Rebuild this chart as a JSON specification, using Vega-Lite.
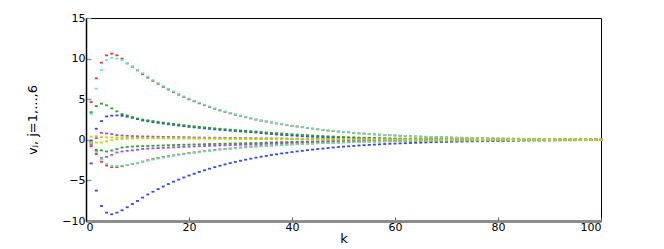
{"$schema":"https://vega.github.io/schema/vega-lite/v6.json","width":515,"height":203,"autosize":"none","padding":{"left":86,"top":18,"right":63,"bottom":28},"background":"white","config":{"view":{"stroke":"black","strokeWidth":1},"font":"DejaVu Sans"},
"data":{"values":[
{"s":"B2","k":1,"v":-2.9},{"s":"B2","k":2,"v":-6.26},{"s":"B2","k":3,"v":-8.15},{"s":"B2","k":4,"v":-8.97},{"s":"B2","k":5,"v":-9.17},{"s":"B2","k":6,"v":-8.97},{"s":"B2","k":7,"v":-8.68},{"s":"B2","k":8,"v":-8.31},{"s":"B2","k":9,"v":-7.9},{"s":"B2","k":10,"v":-7.53},
{"s":"B2","k":11,"v":-7.12},{"s":"B2","k":12,"v":-6.74},{"s":"B2","k":13,"v":-6.4},{"s":"B2","k":14,"v":-6.07},{"s":"B2","k":15,"v":-5.75},{"s":"B2","k":16,"v":-5.45},{"s":"B2","k":17,"v":-5.16},{"s":"B2","k":18,"v":-4.9},{"s":"B2","k":19,"v":-4.64},{"s":"B2","k":20,"v":-4.4},
{"s":"B2","k":21,"v":-4.18},{"s":"B2","k":22,"v":-3.96},{"s":"B2","k":23,"v":-3.75},{"s":"B2","k":24,"v":-3.56},{"s":"B2","k":25,"v":-3.37},{"s":"B2","k":26,"v":-3.19},{"s":"B2","k":27,"v":-3.03},{"s":"B2","k":28,"v":-2.87},{"s":"B2","k":29,"v":-2.73},{"s":"B2","k":30,"v":-2.58},
{"s":"B2","k":31,"v":-2.45},{"s":"B2","k":32,"v":-2.32},{"s":"B2","k":33,"v":-2.2},{"s":"B2","k":34,"v":-2.08},{"s":"B2","k":35,"v":-1.98},{"s":"B2","k":36,"v":-1.87},{"s":"B2","k":37,"v":-1.78},{"s":"B2","k":38,"v":-1.68},{"s":"B2","k":39,"v":-1.6},{"s":"B2","k":40,"v":-1.51},
{"s":"B2","k":41,"v":-1.43},{"s":"B2","k":42,"v":-1.36},{"s":"B2","k":43,"v":-1.28},{"s":"B2","k":44,"v":-1.21},{"s":"B2","k":45,"v":-1.14},{"s":"B2","k":46,"v":-1.08},{"s":"B2","k":47,"v":-1.01},{"s":"B2","k":48,"v":-0.95},{"s":"B2","k":49,"v":-0.89},{"s":"B2","k":50,"v":-0.84},
{"s":"B2","k":51,"v":-0.8},{"s":"B2","k":52,"v":-0.75},{"s":"B2","k":53,"v":-0.7},{"s":"B2","k":54,"v":-0.67},{"s":"B2","k":55,"v":-0.63},{"s":"B2","k":56,"v":-0.59},{"s":"B2","k":57,"v":-0.56},{"s":"B2","k":58,"v":-0.52},{"s":"B2","k":59,"v":-0.49},{"s":"B2","k":60,"v":-0.47},
{"s":"B2","k":61,"v":-0.44},{"s":"B2","k":62,"v":-0.42},{"s":"B2","k":63,"v":-0.39},{"s":"B2","k":64,"v":-0.36},{"s":"B2","k":65,"v":-0.35},{"s":"B2","k":66,"v":-0.33},{"s":"B2","k":67,"v":-0.3},{"s":"B2","k":68,"v":-0.29},{"s":"B2","k":69,"v":-0.27},{"s":"B2","k":70,"v":-0.26},
{"s":"B2","k":71,"v":-0.24},{"s":"B2","k":72,"v":-0.23},{"s":"B2","k":73,"v":-0.22},{"s":"B2","k":74,"v":-0.2},{"s":"B2","k":75,"v":-0.19},{"s":"B2","k":76,"v":-0.18},{"s":"B2","k":77,"v":-0.17},{"s":"B2","k":78,"v":-0.16},{"s":"B2","k":79,"v":-0.15},{"s":"B2","k":80,"v":-0.14},
{"s":"B2","k":81,"v":-0.13},{"s":"B2","k":82,"v":-0.12},{"s":"B2","k":83,"v":-0.12},{"s":"B2","k":84,"v":-0.11},{"s":"B2","k":85,"v":-0.1},{"s":"B2","k":86,"v":-0.1},{"s":"B2","k":87,"v":-0.09},{"s":"B2","k":88,"v":-0.09},{"s":"B2","k":89,"v":-0.08},{"s":"B2","k":90,"v":-0.08},
{"s":"B2","k":91,"v":-0.07},{"s":"B2","k":92,"v":-0.07},{"s":"B2","k":93,"v":-0.06},{"s":"B2","k":94,"v":-0.06},{"s":"B2","k":95,"v":-0.05},{"s":"B2","k":96,"v":-0.05},{"s":"B2","k":97,"v":-0.05},{"s":"B2","k":98,"v":-0.04},{"s":"B2","k":99,"v":-0.04},{"s":"B2","k":100,"v":-0.04},
{"s":"B1","k":1,"v":-0.1},{"s":"B1","k":2,"v":1.36},{"s":"B1","k":3,"v":2.3},{"s":"B1","k":4,"v":2.88},{"s":"B1","k":5,"v":2.97},{"s":"B1","k":6,"v":3.0},{"s":"B1","k":7,"v":2.96},{"s":"B1","k":8,"v":2.85},{"s":"B1","k":9,"v":2.7},{"s":"B1","k":10,"v":2.55},
{"s":"B1","k":11,"v":2.38},{"s":"B1","k":12,"v":2.28},{"s":"B1","k":13,"v":2.18},{"s":"B1","k":14,"v":2.09},{"s":"B1","k":15,"v":2.0},{"s":"B1","k":16,"v":1.91},{"s":"B1","k":17,"v":1.83},{"s":"B1","k":18,"v":1.75},{"s":"B1","k":19,"v":1.68},{"s":"B1","k":20,"v":1.6},
{"s":"B1","k":21,"v":1.53},{"s":"B1","k":22,"v":1.47},{"s":"B1","k":23,"v":1.41},{"s":"B1","k":24,"v":1.35},{"s":"B1","k":25,"v":1.29},{"s":"B1","k":26,"v":1.23},{"s":"B1","k":27,"v":1.18},{"s":"B1","k":28,"v":1.13},{"s":"B1","k":29,"v":1.08},{"s":"B1","k":30,"v":1.03},
{"s":"B1","k":31,"v":0.99},{"s":"B1","k":32,"v":0.94},{"s":"B1","k":33,"v":0.9},{"s":"B1","k":34,"v":0.83},{"s":"B1","k":35,"v":0.77},{"s":"B1","k":36,"v":0.72},{"s":"B1","k":37,"v":0.66},{"s":"B1","k":38,"v":0.61},{"s":"B1","k":39,"v":0.57},{"s":"B1","k":40,"v":0.53},
{"s":"B1","k":41,"v":0.49},{"s":"B1","k":42,"v":0.45},{"s":"B1","k":43,"v":0.42},{"s":"B1","k":44,"v":0.38},{"s":"B1","k":45,"v":0.35},{"s":"B1","k":46,"v":0.33},{"s":"B1","k":47,"v":0.3},{"s":"B1","k":48,"v":0.28},{"s":"B1","k":49,"v":0.26},{"s":"B1","k":50,"v":0.24},
{"s":"B1","k":51,"v":0.22},{"s":"B1","k":52,"v":0.2},{"s":"B1","k":53,"v":0.19},{"s":"B1","k":54,"v":0.17},{"s":"B1","k":55,"v":0.16},{"s":"B1","k":56,"v":0.15},{"s":"B1","k":57,"v":0.14},{"s":"B1","k":58,"v":0.13},{"s":"B1","k":59,"v":0.12},{"s":"B1","k":60,"v":0.11},
{"s":"B1","k":61,"v":0.1},{"s":"B1","k":62,"v":0.09},{"s":"B1","k":63,"v":0.085},{"s":"B1","k":64,"v":0.08},{"s":"B1","k":65,"v":0.07},{"s":"B1","k":66,"v":0.065},{"s":"B1","k":67,"v":0.06},{"s":"B1","k":68,"v":0.055},{"s":"B1","k":69,"v":0.05},{"s":"B1","k":70,"v":0.047},
{"s":"B1","k":71,"v":0.044},{"s":"B1","k":72,"v":0.04},{"s":"B1","k":73,"v":0.037},{"s":"B1","k":74,"v":0.034},{"s":"B1","k":75,"v":0.032},{"s":"B1","k":76,"v":0.03},{"s":"B1","k":77,"v":0.027},{"s":"B1","k":78,"v":0.025},{"s":"B1","k":79,"v":0.023},{"s":"B1","k":80,"v":0.021},
{"s":"B1","k":81,"v":0.02},{"s":"B1","k":82,"v":0.018},{"s":"B1","k":83,"v":0.017},{"s":"B1","k":84,"v":0.016},{"s":"B1","k":85,"v":0.015},{"s":"B1","k":86,"v":0.014},{"s":"B1","k":87,"v":0.013},{"s":"B1","k":88,"v":0.012},{"s":"B1","k":89,"v":0.011},{"s":"B1","k":90,"v":0.01},
{"s":"B1","k":91,"v":0.009},{"s":"B1","k":92,"v":0.009},{"s":"B1","k":93,"v":0.008},{"s":"B1","k":94,"v":0.008},{"s":"B1","k":95,"v":0.007},{"s":"B1","k":96,"v":0.007},{"s":"B1","k":97,"v":0.006},{"s":"B1","k":98,"v":0.006},{"s":"B1","k":99,"v":0.005},{"s":"B1","k":100,"v":0.005},
{"s":"G1","k":1,"v":3.4},{"s":"G1","k":2,"v":4.15},{"s":"G1","k":3,"v":4.45},{"s":"G1","k":4,"v":4.25},{"s":"G1","k":5,"v":3.87},{"s":"G1","k":6,"v":3.5},{"s":"G1","k":7,"v":3.17},{"s":"G1","k":8,"v":3.0},{"s":"G1","k":9,"v":2.8},{"s":"G1","k":10,"v":2.62},
{"s":"G1","k":11,"v":2.5},{"s":"G1","k":12,"v":2.4},{"s":"G1","k":13,"v":2.3},{"s":"G1","k":14,"v":2.21},{"s":"G1","k":15,"v":2.12},{"s":"G1","k":16,"v":2.04},{"s":"G1","k":17,"v":1.96},{"s":"G1","k":18,"v":1.88},{"s":"G1","k":19,"v":1.8},{"s":"G1","k":20,"v":1.73},
{"s":"G1","k":21,"v":1.66},{"s":"G1","k":22,"v":1.6},{"s":"G1","k":23,"v":1.53},{"s":"G1","k":24,"v":1.47},{"s":"G1","k":25,"v":1.41},{"s":"G1","k":26,"v":1.36},{"s":"G1","k":27,"v":1.3},{"s":"G1","k":28,"v":1.25},{"s":"G1","k":29,"v":1.2},{"s":"G1","k":30,"v":1.15},
{"s":"G1","k":31,"v":1.11},{"s":"G1","k":32,"v":1.06},{"s":"G1","k":33,"v":1.02},{"s":"G1","k":34,"v":0.96},{"s":"G1","k":35,"v":0.91},{"s":"G1","k":36,"v":0.86},{"s":"G1","k":37,"v":0.82},{"s":"G1","k":38,"v":0.77},{"s":"G1","k":39,"v":0.73},{"s":"G1","k":40,"v":0.69},
{"s":"G1","k":41,"v":0.65},{"s":"G1","k":42,"v":0.62},{"s":"G1","k":43,"v":0.575},{"s":"G1","k":44,"v":0.53},{"s":"G1","k":45,"v":0.5},{"s":"G1","k":46,"v":0.46},{"s":"G1","k":47,"v":0.43},{"s":"G1","k":48,"v":0.4},{"s":"G1","k":49,"v":0.37},{"s":"G1","k":50,"v":0.34},
{"s":"G1","k":51,"v":0.32},{"s":"G1","k":52,"v":0.3},{"s":"G1","k":53,"v":0.27},{"s":"G1","k":54,"v":0.25},{"s":"G1","k":55,"v":0.24},{"s":"G1","k":56,"v":0.22},{"s":"G1","k":57,"v":0.2},{"s":"G1","k":58,"v":0.19},{"s":"G1","k":59,"v":0.17},{"s":"G1","k":60,"v":0.16},
{"s":"G1","k":61,"v":0.15},{"s":"G1","k":62,"v":0.14},{"s":"G1","k":63,"v":0.13},{"s":"G1","k":64,"v":0.12},{"s":"G1","k":65,"v":0.11},{"s":"G1","k":66,"v":0.1},{"s":"G1","k":67,"v":0.095},{"s":"G1","k":68,"v":0.09},{"s":"G1","k":69,"v":0.08},{"s":"G1","k":70,"v":0.075},
{"s":"G1","k":71,"v":0.07},{"s":"G1","k":72,"v":0.065},{"s":"G1","k":73,"v":0.06},{"s":"G1","k":74,"v":0.055},{"s":"G1","k":75,"v":0.05},{"s":"G1","k":76,"v":0.047},{"s":"G1","k":77,"v":0.044},{"s":"G1","k":78,"v":0.04},{"s":"G1","k":79,"v":0.037},{"s":"G1","k":80,"v":0.035},
{"s":"G1","k":81,"v":0.032},{"s":"G1","k":82,"v":0.03},{"s":"G1","k":83,"v":0.028},{"s":"G1","k":84,"v":0.026},{"s":"G1","k":85,"v":0.024},{"s":"G1","k":86,"v":0.022},{"s":"G1","k":87,"v":0.02},{"s":"G1","k":88,"v":0.019},{"s":"G1","k":89,"v":0.018},{"s":"G1","k":90,"v":0.016},
{"s":"G1","k":91,"v":0.015},{"s":"G1","k":92,"v":0.014},{"s":"G1","k":93,"v":0.013},{"s":"G1","k":94,"v":0.012},{"s":"G1","k":95,"v":0.011},{"s":"G1","k":96,"v":0.01},{"s":"G1","k":97,"v":0.01},{"s":"G1","k":98,"v":0.009},{"s":"G1","k":99,"v":0.008},{"s":"G1","k":100,"v":0.008},
{"s":"G2","k":1,"v":-0.45},{"s":"G2","k":2,"v":-1.23},{"s":"G2","k":3,"v":-1.3},{"s":"G2","k":4,"v":-1.44},{"s":"G2","k":5,"v":-1.32},{"s":"G2","k":6,"v":-1.15},{"s":"G2","k":7,"v":-0.95},{"s":"G2","k":8,"v":-0.88},{"s":"G2","k":9,"v":-0.84},{"s":"G2","k":10,"v":-0.8},
{"s":"G2","k":11,"v":-0.78},{"s":"G2","k":12,"v":-0.76},{"s":"G2","k":13,"v":-0.73},{"s":"G2","k":14,"v":-0.71},{"s":"G2","k":15,"v":-0.69},{"s":"G2","k":16,"v":-0.67},{"s":"G2","k":17,"v":-0.65},{"s":"G2","k":18,"v":-0.63},{"s":"G2","k":19,"v":-0.61},{"s":"G2","k":20,"v":-0.59},
{"s":"G2","k":21,"v":-0.57},{"s":"G2","k":22,"v":-0.56},{"s":"G2","k":23,"v":-0.54},{"s":"G2","k":24,"v":-0.52},{"s":"G2","k":25,"v":-0.51},{"s":"G2","k":26,"v":-0.49},{"s":"G2","k":27,"v":-0.48},{"s":"G2","k":28,"v":-0.46},{"s":"G2","k":29,"v":-0.45},{"s":"G2","k":30,"v":-0.44},
{"s":"G2","k":31,"v":-0.42},{"s":"G2","k":32,"v":-0.41},{"s":"G2","k":33,"v":-0.4},{"s":"G2","k":34,"v":-0.38},{"s":"G2","k":35,"v":-0.35},{"s":"G2","k":36,"v":-0.33},{"s":"G2","k":37,"v":-0.31},{"s":"G2","k":38,"v":-0.29},{"s":"G2","k":39,"v":-0.28},{"s":"G2","k":40,"v":-0.26},
{"s":"G2","k":41,"v":-0.24},{"s":"G2","k":42,"v":-0.23},{"s":"G2","k":43,"v":-0.22},{"s":"G2","k":44,"v":-0.2},{"s":"G2","k":45,"v":-0.19},{"s":"G2","k":46,"v":-0.18},{"s":"G2","k":47,"v":-0.17},{"s":"G2","k":48,"v":-0.16},{"s":"G2","k":49,"v":-0.15},{"s":"G2","k":50,"v":-0.14},
{"s":"G2","k":51,"v":-0.13},{"s":"G2","k":52,"v":-0.12},{"s":"G2","k":53,"v":-0.11},{"s":"G2","k":54,"v":-0.11},{"s":"G2","k":55,"v":-0.1},{"s":"G2","k":56,"v":-0.09},{"s":"G2","k":57,"v":-0.09},{"s":"G2","k":58,"v":-0.08},{"s":"G2","k":59,"v":-0.08},{"s":"G2","k":60,"v":-0.07},
{"s":"G2","k":61,"v":-0.07},{"s":"G2","k":62,"v":-0.06},{"s":"G2","k":63,"v":-0.06},{"s":"G2","k":64,"v":-0.06},{"s":"G2","k":65,"v":-0.05},{"s":"G2","k":66,"v":-0.05},{"s":"G2","k":67,"v":-0.05},{"s":"G2","k":68,"v":-0.04},{"s":"G2","k":69,"v":-0.04},{"s":"G2","k":70,"v":-0.04},
{"s":"G2","k":71,"v":-0.04},{"s":"G2","k":72,"v":-0.03},{"s":"G2","k":73,"v":-0.03},{"s":"G2","k":74,"v":-0.03},{"s":"G2","k":75,"v":-0.03},{"s":"G2","k":76,"v":-0.03},{"s":"G2","k":77,"v":-0.03},{"s":"G2","k":78,"v":-0.02},{"s":"G2","k":79,"v":-0.02},{"s":"G2","k":80,"v":-0.02},
{"s":"G2","k":81,"v":-0.02},{"s":"G2","k":82,"v":-0.02},{"s":"G2","k":83,"v":-0.02},{"s":"G2","k":84,"v":-0.02},{"s":"G2","k":85,"v":-0.02},{"s":"G2","k":86,"v":-0.02},{"s":"G2","k":87,"v":-0.02},{"s":"G2","k":88,"v":-0.02},{"s":"G2","k":89,"v":-0.02},{"s":"G2","k":90,"v":-0.02},
{"s":"G2","k":91,"v":-0.01},{"s":"G2","k":92,"v":-0.01},{"s":"G2","k":93,"v":-0.01},{"s":"G2","k":94,"v":-0.01},{"s":"G2","k":95,"v":-0.01},{"s":"G2","k":96,"v":-0.01},{"s":"G2","k":97,"v":-0.01},{"s":"G2","k":98,"v":-0.01},{"s":"G2","k":99,"v":-0.01},{"s":"G2","k":100,"v":-0.01},
{"s":"P1","k":1,"v":-0.6},{"s":"P1","k":2,"v":0.2},{"s":"P1","k":3,"v":0.86},{"s":"P1","k":4,"v":0.78},{"s":"P1","k":5,"v":0.7},{"s":"P1","k":6,"v":0.58},{"s":"P1","k":7,"v":0.53},{"s":"P1","k":8,"v":0.49},{"s":"P1","k":9,"v":0.46},{"s":"P1","k":10,"v":0.44},
{"s":"P1","k":11,"v":0.42},{"s":"P1","k":12,"v":0.41},{"s":"P1","k":13,"v":0.39},{"s":"P1","k":14,"v":0.38},{"s":"P1","k":15,"v":0.36},{"s":"P1","k":16,"v":0.35},{"s":"P1","k":17,"v":0.34},{"s":"P1","k":18,"v":0.33},{"s":"P1","k":19,"v":0.32},{"s":"P1","k":20,"v":0.31},
{"s":"P1","k":21,"v":0.29},{"s":"P1","k":22,"v":0.28},{"s":"P1","k":23,"v":0.27},{"s":"P1","k":24,"v":0.26},{"s":"P1","k":25,"v":0.26},{"s":"P1","k":26,"v":0.25},{"s":"P1","k":27,"v":0.24},{"s":"P1","k":28,"v":0.23},{"s":"P1","k":29,"v":0.22},{"s":"P1","k":30,"v":0.21},
{"s":"P1","k":31,"v":0.21},{"s":"P1","k":32,"v":0.2},{"s":"P1","k":33,"v":0.19},{"s":"P1","k":34,"v":0.18},{"s":"P1","k":35,"v":0.18},{"s":"P1","k":36,"v":0.17},{"s":"P1","k":37,"v":0.16},{"s":"P1","k":38,"v":0.16},{"s":"P1","k":39,"v":0.15},{"s":"P1","k":40,"v":0.14},
{"s":"P1","k":41,"v":0.14},{"s":"P1","k":42,"v":0.13},{"s":"P1","k":43,"v":0.125},{"s":"P1","k":44,"v":0.12},{"s":"P1","k":45,"v":0.11},{"s":"P1","k":46,"v":0.105},{"s":"P1","k":47,"v":0.1},{"s":"P1","k":48,"v":0.095},{"s":"P1","k":49,"v":0.09},{"s":"P1","k":50,"v":0.085},
{"s":"P1","k":51,"v":0.08},{"s":"P1","k":52,"v":0.077},{"s":"P1","k":53,"v":0.073},{"s":"P1","k":54,"v":0.07},{"s":"P1","k":55,"v":0.066},{"s":"P1","k":56,"v":0.063},{"s":"P1","k":57,"v":0.06},{"s":"P1","k":58,"v":0.057},{"s":"P1","k":59,"v":0.054},{"s":"P1","k":60,"v":0.051},
{"s":"P1","k":61,"v":0.048},{"s":"P1","k":62,"v":0.046},{"s":"P1","k":63,"v":0.044},{"s":"P1","k":64,"v":0.041},{"s":"P1","k":65,"v":0.039},{"s":"P1","k":66,"v":0.037},{"s":"P1","k":67,"v":0.035},{"s":"P1","k":68,"v":0.034},{"s":"P1","k":69,"v":0.032},{"s":"P1","k":70,"v":0.03},
{"s":"P1","k":71,"v":0.029},{"s":"P1","k":72,"v":0.027},{"s":"P1","k":73,"v":0.026},{"s":"P1","k":74,"v":0.025},{"s":"P1","k":75,"v":0.023},{"s":"P1","k":76,"v":0.022},{"s":"P1","k":77,"v":0.021},{"s":"P1","k":78,"v":0.02},{"s":"P1","k":79,"v":0.019},{"s":"P1","k":80,"v":0.018},
{"s":"P1","k":81,"v":0.017},{"s":"P1","k":82,"v":0.016},{"s":"P1","k":83,"v":0.015},{"s":"P1","k":84,"v":0.015},{"s":"P1","k":85,"v":0.014},{"s":"P1","k":86,"v":0.013},{"s":"P1","k":87,"v":0.013},{"s":"P1","k":88,"v":0.012},{"s":"P1","k":89,"v":0.011},{"s":"P1","k":90,"v":0.011},
{"s":"P1","k":91,"v":0.01},{"s":"P1","k":92,"v":0.01},{"s":"P1","k":93,"v":0.009},{"s":"P1","k":94,"v":0.009},{"s":"P1","k":95,"v":0.008},{"s":"P1","k":96,"v":0.008},{"s":"P1","k":97,"v":0.008},{"s":"P1","k":98,"v":0.007},{"s":"P1","k":99,"v":0.007},{"s":"P1","k":100,"v":0.007},
{"s":"P2","k":1,"v":-0.3},{"s":"P2","k":2,"v":-1.4},{"s":"P2","k":3,"v":-2.26},{"s":"P2","k":4,"v":-2.1},{"s":"P2","k":5,"v":-1.85},{"s":"P2","k":6,"v":-1.56},{"s":"P2","k":7,"v":-1.44},{"s":"P2","k":8,"v":-1.36},{"s":"P2","k":9,"v":-1.3},{"s":"P2","k":10,"v":-1.22},
{"s":"P2","k":11,"v":-1.12},{"s":"P2","k":12,"v":-1.09},{"s":"P2","k":13,"v":-1.05},{"s":"P2","k":14,"v":-1.02},{"s":"P2","k":15,"v":-0.99},{"s":"P2","k":16,"v":-0.96},{"s":"P2","k":17,"v":-0.93},{"s":"P2","k":18,"v":-0.9},{"s":"P2","k":19,"v":-0.87},{"s":"P2","k":20,"v":-0.84},
{"s":"P2","k":21,"v":-0.82},{"s":"P2","k":22,"v":-0.79},{"s":"P2","k":23,"v":-0.77},{"s":"P2","k":24,"v":-0.74},{"s":"P2","k":25,"v":-0.72},{"s":"P2","k":26,"v":-0.7},{"s":"P2","k":27,"v":-0.68},{"s":"P2","k":28,"v":-0.65},{"s":"P2","k":29,"v":-0.63},{"s":"P2","k":30,"v":-0.61},
{"s":"P2","k":31,"v":-0.6},{"s":"P2","k":32,"v":-0.58},{"s":"P2","k":33,"v":-0.56},{"s":"P2","k":34,"v":-0.53},{"s":"P2","k":35,"v":-0.49},{"s":"P2","k":36,"v":-0.46},{"s":"P2","k":37,"v":-0.44},{"s":"P2","k":38,"v":-0.41},{"s":"P2","k":39,"v":-0.39},{"s":"P2","k":40,"v":-0.36},
{"s":"P2","k":41,"v":-0.34},{"s":"P2","k":42,"v":-0.32},{"s":"P2","k":43,"v":-0.3},{"s":"P2","k":44,"v":-0.28},{"s":"P2","k":45,"v":-0.27},{"s":"P2","k":46,"v":-0.25},{"s":"P2","k":47,"v":-0.24},{"s":"P2","k":48,"v":-0.22},{"s":"P2","k":49,"v":-0.21},{"s":"P2","k":50,"v":-0.2},
{"s":"P2","k":51,"v":-0.18},{"s":"P2","k":52,"v":-0.17},{"s":"P2","k":53,"v":-0.16},{"s":"P2","k":54,"v":-0.15},{"s":"P2","k":55,"v":-0.14},{"s":"P2","k":56,"v":-0.14},{"s":"P2","k":57,"v":-0.13},{"s":"P2","k":58,"v":-0.12},{"s":"P2","k":59,"v":-0.11},{"s":"P2","k":60,"v":-0.11},
{"s":"P2","k":61,"v":-0.1},{"s":"P2","k":62,"v":-0.1},{"s":"P2","k":63,"v":-0.09},{"s":"P2","k":64,"v":-0.08},{"s":"P2","k":65,"v":-0.08},{"s":"P2","k":66,"v":-0.08},{"s":"P2","k":67,"v":-0.07},{"s":"P2","k":68,"v":-0.07},{"s":"P2","k":69,"v":-0.06},{"s":"P2","k":70,"v":-0.06},
{"s":"P2","k":71,"v":-0.06},{"s":"P2","k":72,"v":-0.05},{"s":"P2","k":73,"v":-0.05},{"s":"P2","k":74,"v":-0.05},{"s":"P2","k":75,"v":-0.04},{"s":"P2","k":76,"v":-0.04},{"s":"P2","k":77,"v":-0.04},{"s":"P2","k":78,"v":-0.04},{"s":"P2","k":79,"v":-0.04},{"s":"P2","k":80,"v":-0.03},
{"s":"P2","k":81,"v":-0.03},{"s":"P2","k":82,"v":-0.03},{"s":"P2","k":83,"v":-0.03},{"s":"P2","k":84,"v":-0.03},{"s":"P2","k":85,"v":-0.03},{"s":"P2","k":86,"v":-0.03},{"s":"P2","k":87,"v":-0.03},{"s":"P2","k":88,"v":-0.03},{"s":"P2","k":89,"v":-0.02},{"s":"P2","k":90,"v":-0.02},
{"s":"P2","k":91,"v":-0.02},{"s":"P2","k":92,"v":-0.02},{"s":"P2","k":93,"v":-0.02},{"s":"P2","k":94,"v":-0.02},{"s":"P2","k":95,"v":-0.02},{"s":"P2","k":96,"v":-0.02},{"s":"P2","k":97,"v":-0.02},{"s":"P2","k":98,"v":-0.02},{"s":"P2","k":99,"v":-0.02},{"s":"P2","k":100,"v":-0.02},
{"s":"R1","k":1,"v":4.65},{"s":"R1","k":2,"v":7.57},{"s":"R1","k":3,"v":9.5},{"s":"R1","k":4,"v":10.4},{"s":"R1","k":5,"v":10.6},{"s":"R1","k":6,"v":10.4},{"s":"R1","k":7,"v":10.0},{"s":"R1","k":8,"v":9.4},{"s":"R1","k":9,"v":9.0},{"s":"R1","k":10,"v":8.55},
{"s":"R1","k":11,"v":8.08},{"s":"R1","k":12,"v":7.65},{"s":"R1","k":13,"v":7.26},{"s":"R1","k":14,"v":6.89},{"s":"R1","k":15,"v":6.52},{"s":"R1","k":16,"v":6.19},{"s":"R1","k":17,"v":5.86},{"s":"R1","k":18,"v":5.56},{"s":"R1","k":19,"v":5.27},{"s":"R1","k":20,"v":4.99},
{"s":"R1","k":21,"v":4.74},{"s":"R1","k":22,"v":4.49},{"s":"R1","k":23,"v":4.26},{"s":"R1","k":24,"v":4.04},{"s":"R1","k":25,"v":3.82},{"s":"R1","k":26,"v":3.62},{"s":"R1","k":27,"v":3.44},{"s":"R1","k":28,"v":3.26},{"s":"R1","k":29,"v":3.09},{"s":"R1","k":30,"v":2.93},
{"s":"R1","k":31,"v":2.78},{"s":"R1","k":32,"v":2.63},{"s":"R1","k":33,"v":2.49},{"s":"R1","k":34,"v":2.36},{"s":"R1","k":35,"v":2.25},{"s":"R1","k":36,"v":2.13},{"s":"R1","k":37,"v":2.02},{"s":"R1","k":38,"v":1.91},{"s":"R1","k":39,"v":1.81},{"s":"R1","k":40,"v":1.71},
{"s":"R1","k":41,"v":1.63},{"s":"R1","k":42,"v":1.55},{"s":"R1","k":43,"v":1.46},{"s":"R1","k":44,"v":1.37},{"s":"R1","k":45,"v":1.29},{"s":"R1","k":46,"v":1.22},{"s":"R1","k":47,"v":1.14},{"s":"R1","k":48,"v":1.08},{"s":"R1","k":49,"v":1.01},{"s":"R1","k":50,"v":0.96},
{"s":"R1","k":51,"v":0.91},{"s":"R1","k":52,"v":0.85},{"s":"R1","k":53,"v":0.8},{"s":"R1","k":54,"v":0.76},{"s":"R1","k":55,"v":0.71},{"s":"R1","k":56,"v":0.67},{"s":"R1","k":57,"v":0.63},{"s":"R1","k":58,"v":0.59},{"s":"R1","k":59,"v":0.56},{"s":"R1","k":60,"v":0.53},
{"s":"R1","k":61,"v":0.5},{"s":"R1","k":62,"v":0.47},{"s":"R1","k":63,"v":0.44},{"s":"R1","k":64,"v":0.41},{"s":"R1","k":65,"v":0.39},{"s":"R1","k":66,"v":0.37},{"s":"R1","k":67,"v":0.34},{"s":"R1","k":68,"v":0.33},{"s":"R1","k":69,"v":0.31},{"s":"R1","k":70,"v":0.3},
{"s":"R1","k":71,"v":0.28},{"s":"R1","k":72,"v":0.26},{"s":"R1","k":73,"v":0.25},{"s":"R1","k":74,"v":0.23},{"s":"R1","k":75,"v":0.22},{"s":"R1","k":76,"v":0.21},{"s":"R1","k":77,"v":0.2},{"s":"R1","k":78,"v":0.18},{"s":"R1","k":79,"v":0.17},{"s":"R1","k":80,"v":0.16},
{"s":"R1","k":81,"v":0.15},{"s":"R1","k":82,"v":0.14},{"s":"R1","k":83,"v":0.14},{"s":"R1","k":84,"v":0.13},{"s":"R1","k":85,"v":0.12},{"s":"R1","k":86,"v":0.11},{"s":"R1","k":87,"v":0.11},{"s":"R1","k":88,"v":0.1},{"s":"R1","k":89,"v":0.09},{"s":"R1","k":90,"v":0.09},
{"s":"R1","k":91,"v":0.08},{"s":"R1","k":92,"v":0.08},{"s":"R1","k":93,"v":0.07},{"s":"R1","k":94,"v":0.07},{"s":"R1","k":95,"v":0.06},{"s":"R1","k":96,"v":0.06},{"s":"R1","k":97,"v":0.06},{"s":"R1","k":98,"v":0.05},{"s":"R1","k":99,"v":0.05},{"s":"R1","k":100,"v":0.05},
{"s":"R2","k":1,"v":-0.8},{"s":"R2","k":2,"v":-1.75},{"s":"R2","k":3,"v":-2.7},{"s":"R2","k":4,"v":-3.17},{"s":"R2","k":5,"v":-3.37},{"s":"R2","k":6,"v":-3.37},{"s":"R2","k":7,"v":-3.25},{"s":"R2","k":8,"v":-3.12},{"s":"R2","k":9,"v":-2.98},{"s":"R2","k":10,"v":-2.88},
{"s":"R2","k":11,"v":-2.68},{"s":"R2","k":12,"v":-2.52},{"s":"R2","k":13,"v":-2.38},{"s":"R2","k":14,"v":-2.25},{"s":"R2","k":15,"v":-2.13},{"s":"R2","k":16,"v":-2.02},{"s":"R2","k":17,"v":-1.92},{"s":"R2","k":18,"v":-1.81},{"s":"R2","k":19,"v":-1.73},{"s":"R2","k":20,"v":-1.63},
{"s":"R2","k":21,"v":-1.55},{"s":"R2","k":22,"v":-1.46},{"s":"R2","k":23,"v":-1.39},{"s":"R2","k":24,"v":-1.32},{"s":"R2","k":25,"v":-1.25},{"s":"R2","k":26,"v":-1.18},{"s":"R2","k":27,"v":-1.13},{"s":"R2","k":28,"v":-1.07},{"s":"R2","k":29,"v":-1.01},{"s":"R2","k":30,"v":-0.96},
{"s":"R2","k":31,"v":-0.91},{"s":"R2","k":32,"v":-0.86},{"s":"R2","k":33,"v":-0.81},{"s":"R2","k":34,"v":-0.78},{"s":"R2","k":35,"v":-0.74},{"s":"R2","k":36,"v":-0.7},{"s":"R2","k":37,"v":-0.66},{"s":"R2","k":38,"v":-0.62},{"s":"R2","k":39,"v":-0.59},{"s":"R2","k":40,"v":-0.56},
{"s":"R2","k":41,"v":-0.53},{"s":"R2","k":42,"v":-0.5},{"s":"R2","k":43,"v":-0.48},{"s":"R2","k":44,"v":-0.45},{"s":"R2","k":45,"v":-0.42},{"s":"R2","k":46,"v":-0.4},{"s":"R2","k":47,"v":-0.38},{"s":"R2","k":48,"v":-0.36},{"s":"R2","k":49,"v":-0.33},{"s":"R2","k":50,"v":-0.31},
{"s":"R2","k":51,"v":-0.3},{"s":"R2","k":52,"v":-0.28},{"s":"R2","k":53,"v":-0.26},{"s":"R2","k":54,"v":-0.25},{"s":"R2","k":55,"v":-0.23},{"s":"R2","k":56,"v":-0.22},{"s":"R2","k":57,"v":-0.2},{"s":"R2","k":58,"v":-0.19},{"s":"R2","k":59,"v":-0.18},{"s":"R2","k":60,"v":-0.17},
{"s":"R2","k":61,"v":-0.16},{"s":"R2","k":62,"v":-0.15},{"s":"R2","k":63,"v":-0.14},{"s":"R2","k":64,"v":-0.13},{"s":"R2","k":65,"v":-0.13},{"s":"R2","k":66,"v":-0.12},{"s":"R2","k":67,"v":-0.11},{"s":"R2","k":68,"v":-0.1},{"s":"R2","k":69,"v":-0.1},{"s":"R2","k":70,"v":-0.09},
{"s":"R2","k":71,"v":-0.09},{"s":"R2","k":72,"v":-0.08},{"s":"R2","k":73,"v":-0.08},{"s":"R2","k":74,"v":-0.07},{"s":"R2","k":75,"v":-0.07},{"s":"R2","k":76,"v":-0.07},{"s":"R2","k":77,"v":-0.06},{"s":"R2","k":78,"v":-0.06},{"s":"R2","k":79,"v":-0.05},{"s":"R2","k":80,"v":-0.05},
{"s":"R2","k":81,"v":-0.05},{"s":"R2","k":82,"v":-0.05},{"s":"R2","k":83,"v":-0.04},{"s":"R2","k":84,"v":-0.04},{"s":"R2","k":85,"v":-0.04},{"s":"R2","k":86,"v":-0.04},{"s":"R2","k":87,"v":-0.03},{"s":"R2","k":88,"v":-0.03},{"s":"R2","k":89,"v":-0.03},{"s":"R2","k":90,"v":-0.03},
{"s":"R2","k":91,"v":-0.03},{"s":"R2","k":92,"v":-0.03},{"s":"R2","k":93,"v":-0.02},{"s":"R2","k":94,"v":-0.02},{"s":"R2","k":95,"v":-0.02},{"s":"R2","k":96,"v":-0.02},{"s":"R2","k":97,"v":-0.02},{"s":"R2","k":98,"v":-0.02},{"s":"R2","k":99,"v":-0.02},{"s":"R2","k":100,"v":-0.02},
{"s":"C1","k":1,"v":3.2},{"s":"C1","k":2,"v":6.3},{"s":"C1","k":3,"v":8.6},{"s":"C1","k":4,"v":9.8},{"s":"C1","k":5,"v":10.1},{"s":"C1","k":6,"v":10.0},{"s":"C1","k":7,"v":9.8},{"s":"C1","k":8,"v":9.45},{"s":"C1","k":9,"v":9.05},{"s":"C1","k":10,"v":8.6},
{"s":"C1","k":11,"v":8.2},{"s":"C1","k":12,"v":7.77},{"s":"C1","k":13,"v":7.37},{"s":"C1","k":14,"v":6.99},{"s":"C1","k":15,"v":6.62},{"s":"C1","k":16,"v":6.28},{"s":"C1","k":17,"v":5.95},{"s":"C1","k":18,"v":5.64},{"s":"C1","k":19,"v":5.35},{"s":"C1","k":20,"v":5.07},
{"s":"C1","k":21,"v":4.81},{"s":"C1","k":22,"v":4.56},{"s":"C1","k":23,"v":4.32},{"s":"C1","k":24,"v":4.1},{"s":"C1","k":25,"v":3.88},{"s":"C1","k":26,"v":3.68},{"s":"C1","k":27,"v":3.49},{"s":"C1","k":28,"v":3.31},{"s":"C1","k":29,"v":3.14},{"s":"C1","k":30,"v":2.97},
{"s":"C1","k":31,"v":2.82},{"s":"C1","k":32,"v":2.67},{"s":"C1","k":33,"v":2.53},{"s":"C1","k":34,"v":2.4},{"s":"C1","k":35,"v":2.28},{"s":"C1","k":36,"v":2.16},{"s":"C1","k":37,"v":2.05},{"s":"C1","k":38,"v":1.94},{"s":"C1","k":39,"v":1.84},{"s":"C1","k":40,"v":1.74},
{"s":"C1","k":41,"v":1.65},{"s":"C1","k":42,"v":1.57},{"s":"C1","k":43,"v":1.48},{"s":"C1","k":44,"v":1.39},{"s":"C1","k":45,"v":1.31},{"s":"C1","k":46,"v":1.24},{"s":"C1","k":47,"v":1.16},{"s":"C1","k":48,"v":1.1},{"s":"C1","k":49,"v":1.03},{"s":"C1","k":50,"v":0.97},
{"s":"C1","k":51,"v":0.92},{"s":"C1","k":52,"v":0.86},{"s":"C1","k":53,"v":0.81},{"s":"C1","k":54,"v":0.77},{"s":"C1","k":55,"v":0.72},{"s":"C1","k":56,"v":0.68},{"s":"C1","k":57,"v":0.64},{"s":"C1","k":58,"v":0.6},{"s":"C1","k":59,"v":0.57},{"s":"C1","k":60,"v":0.54},
{"s":"C1","k":61,"v":0.51},{"s":"C1","k":62,"v":0.48},{"s":"C1","k":63,"v":0.45},{"s":"C1","k":64,"v":0.42},{"s":"C1","k":65,"v":0.4},{"s":"C1","k":66,"v":0.38},{"s":"C1","k":67,"v":0.35},{"s":"C1","k":68,"v":0.33},{"s":"C1","k":69,"v":0.31},{"s":"C1","k":70,"v":0.3},
{"s":"C1","k":71,"v":0.28},{"s":"C1","k":72,"v":0.26},{"s":"C1","k":73,"v":0.25},{"s":"C1","k":74,"v":0.23},{"s":"C1","k":75,"v":0.22},{"s":"C1","k":76,"v":0.21},{"s":"C1","k":77,"v":0.2},{"s":"C1","k":78,"v":0.18},{"s":"C1","k":79,"v":0.17},{"s":"C1","k":80,"v":0.16},
{"s":"C1","k":81,"v":0.15},{"s":"C1","k":82,"v":0.14},{"s":"C1","k":83,"v":0.14},{"s":"C1","k":84,"v":0.13},{"s":"C1","k":85,"v":0.12},{"s":"C1","k":86,"v":0.11},{"s":"C1","k":87,"v":0.11},{"s":"C1","k":88,"v":0.1},{"s":"C1","k":89,"v":0.09},{"s":"C1","k":90,"v":0.09},
{"s":"C1","k":91,"v":0.08},{"s":"C1","k":92,"v":0.08},{"s":"C1","k":93,"v":0.07},{"s":"C1","k":94,"v":0.07},{"s":"C1","k":95,"v":0.06},{"s":"C1","k":96,"v":0.06},{"s":"C1","k":97,"v":0.06},{"s":"C1","k":98,"v":0.05},{"s":"C1","k":99,"v":0.05},{"s":"C1","k":100,"v":0.05},
{"s":"C2","k":1,"v":-0.45},{"s":"C2","k":2,"v":-1.5},{"s":"C2","k":3,"v":-2.4},{"s":"C2","k":4,"v":-2.96},{"s":"C2","k":5,"v":-3.2},{"s":"C2","k":6,"v":-3.2},{"s":"C2","k":7,"v":-3.17},{"s":"C2","k":8,"v":-3.1},{"s":"C2","k":9,"v":-2.96},{"s":"C2","k":10,"v":-2.86},
{"s":"C2","k":11,"v":-2.72},{"s":"C2","k":12,"v":-2.58},{"s":"C2","k":13,"v":-2.45},{"s":"C2","k":14,"v":-2.32},{"s":"C2","k":15,"v":-2.2},{"s":"C2","k":16,"v":-2.08},{"s":"C2","k":17,"v":-1.98},{"s":"C2","k":18,"v":-1.87},{"s":"C2","k":19,"v":-1.78},{"s":"C2","k":20,"v":-1.68},
{"s":"C2","k":21,"v":-1.6},{"s":"C2","k":22,"v":-1.51},{"s":"C2","k":23,"v":-1.43},{"s":"C2","k":24,"v":-1.36},{"s":"C2","k":25,"v":-1.29},{"s":"C2","k":26,"v":-1.22},{"s":"C2","k":27,"v":-1.16},{"s":"C2","k":28,"v":-1.1},{"s":"C2","k":29,"v":-1.04},{"s":"C2","k":30,"v":-0.99},
{"s":"C2","k":31,"v":-0.94},{"s":"C2","k":32,"v":-0.89},{"s":"C2","k":33,"v":-0.84},{"s":"C2","k":34,"v":-0.8},{"s":"C2","k":35,"v":-0.76},{"s":"C2","k":36,"v":-0.72},{"s":"C2","k":37,"v":-0.68},{"s":"C2","k":38,"v":-0.64},{"s":"C2","k":39,"v":-0.61},{"s":"C2","k":40,"v":-0.58},
{"s":"C2","k":41,"v":-0.55},{"s":"C2","k":42,"v":-0.52},{"s":"C2","k":43,"v":-0.49},{"s":"C2","k":44,"v":-0.46},{"s":"C2","k":45,"v":-0.43},{"s":"C2","k":46,"v":-0.41},{"s":"C2","k":47,"v":-0.39},{"s":"C2","k":48,"v":-0.37},{"s":"C2","k":49,"v":-0.34},{"s":"C2","k":50,"v":-0.32},
{"s":"C2","k":51,"v":-0.31},{"s":"C2","k":52,"v":-0.29},{"s":"C2","k":53,"v":-0.27},{"s":"C2","k":54,"v":-0.26},{"s":"C2","k":55,"v":-0.24},{"s":"C2","k":56,"v":-0.23},{"s":"C2","k":57,"v":-0.21},{"s":"C2","k":58,"v":-0.2},{"s":"C2","k":59,"v":-0.19},{"s":"C2","k":60,"v":-0.18},
{"s":"C2","k":61,"v":-0.17},{"s":"C2","k":62,"v":-0.16},{"s":"C2","k":63,"v":-0.15},{"s":"C2","k":64,"v":-0.14},{"s":"C2","k":65,"v":-0.13},{"s":"C2","k":66,"v":-0.13},{"s":"C2","k":67,"v":-0.12},{"s":"C2","k":68,"v":-0.11},{"s":"C2","k":69,"v":-0.1},{"s":"C2","k":70,"v":-0.1},
{"s":"C2","k":71,"v":-0.09},{"s":"C2","k":72,"v":-0.09},{"s":"C2","k":73,"v":-0.08},{"s":"C2","k":74,"v":-0.08},{"s":"C2","k":75,"v":-0.07},{"s":"C2","k":76,"v":-0.07},{"s":"C2","k":77,"v":-0.07},{"s":"C2","k":78,"v":-0.06},{"s":"C2","k":79,"v":-0.06},{"s":"C2","k":80,"v":-0.05},
{"s":"C2","k":81,"v":-0.05},{"s":"C2","k":82,"v":-0.05},{"s":"C2","k":83,"v":-0.05},{"s":"C2","k":84,"v":-0.04},{"s":"C2","k":85,"v":-0.04},{"s":"C2","k":86,"v":-0.04},{"s":"C2","k":87,"v":-0.04},{"s":"C2","k":88,"v":-0.03},{"s":"C2","k":89,"v":-0.03},{"s":"C2","k":90,"v":-0.03},
{"s":"C2","k":91,"v":-0.03},{"s":"C2","k":92,"v":-0.03},{"s":"C2","k":93,"v":-0.02},{"s":"C2","k":94,"v":-0.02},{"s":"C2","k":95,"v":-0.02},{"s":"C2","k":96,"v":-0.02},{"s":"C2","k":97,"v":-0.02},{"s":"C2","k":98,"v":-0.02},{"s":"C2","k":99,"v":-0.02},{"s":"C2","k":100,"v":-0.02},
{"s":"Y1","k":1,"v":0.4},{"s":"Y1","k":2,"v":0.45},{"s":"Y1","k":3,"v":0.32},{"s":"Y1","k":4,"v":0.3},{"s":"Y1","k":5,"v":0.29},{"s":"Y1","k":6,"v":0.28},{"s":"Y1","k":7,"v":0.27},{"s":"Y1","k":8,"v":0.26},{"s":"Y1","k":9,"v":0.25},{"s":"Y1","k":10,"v":0.24},
{"s":"Y1","k":11,"v":0.24},{"s":"Y1","k":12,"v":0.234},{"s":"Y1","k":13,"v":0.228},{"s":"Y1","k":14,"v":0.222},{"s":"Y1","k":15,"v":0.217},{"s":"Y1","k":16,"v":0.212},{"s":"Y1","k":17,"v":0.206},{"s":"Y1","k":18,"v":0.201},{"s":"Y1","k":19,"v":0.196},{"s":"Y1","k":20,"v":0.191},
{"s":"Y1","k":21,"v":0.187},{"s":"Y1","k":22,"v":0.182},{"s":"Y1","k":23,"v":0.178},{"s":"Y1","k":24,"v":0.173},{"s":"Y1","k":25,"v":0.169},{"s":"Y1","k":26,"v":0.165},{"s":"Y1","k":27,"v":0.16},{"s":"Y1","k":28,"v":0.156},{"s":"Y1","k":29,"v":0.152},{"s":"Y1","k":30,"v":0.149},
{"s":"Y1","k":31,"v":0.145},{"s":"Y1","k":32,"v":0.141},{"s":"Y1","k":33,"v":0.138},{"s":"Y1","k":34,"v":0.134},{"s":"Y1","k":35,"v":0.131},{"s":"Y1","k":36,"v":0.128},{"s":"Y1","k":37,"v":0.124},{"s":"Y1","k":38,"v":0.121},{"s":"Y1","k":39,"v":0.118},{"s":"Y1","k":40,"v":0.115},
{"s":"Y1","k":41,"v":0.112},{"s":"Y1","k":42,"v":0.11},{"s":"Y1","k":43,"v":0.105},{"s":"Y1","k":44,"v":0.101},{"s":"Y1","k":45,"v":0.097},{"s":"Y1","k":46,"v":0.093},{"s":"Y1","k":47,"v":0.09},{"s":"Y1","k":48,"v":0.086},{"s":"Y1","k":49,"v":0.083},{"s":"Y1","k":50,"v":0.079},
{"s":"Y1","k":51,"v":0.076},{"s":"Y1","k":52,"v":0.073},{"s":"Y1","k":53,"v":0.07},{"s":"Y1","k":54,"v":0.067},{"s":"Y1","k":55,"v":0.065},{"s":"Y1","k":56,"v":0.062},{"s":"Y1","k":57,"v":0.06},{"s":"Y1","k":58,"v":0.057},{"s":"Y1","k":59,"v":0.055},{"s":"Y1","k":60,"v":0.053},
{"s":"Y1","k":61,"v":0.05},{"s":"Y1","k":62,"v":0.048},{"s":"Y1","k":63,"v":0.046},{"s":"Y1","k":64,"v":0.045},{"s":"Y1","k":65,"v":0.043},{"s":"Y1","k":66,"v":0.041},{"s":"Y1","k":67,"v":0.04},{"s":"Y1","k":68,"v":0.038},{"s":"Y1","k":69,"v":0.036},{"s":"Y1","k":70,"v":0.035},
{"s":"Y1","k":71,"v":0.034},{"s":"Y1","k":72,"v":0.032},{"s":"Y1","k":73,"v":0.031},{"s":"Y1","k":74,"v":0.03},{"s":"Y1","k":75,"v":0.028},{"s":"Y1","k":76,"v":0.027},{"s":"Y1","k":77,"v":0.026},{"s":"Y1","k":78,"v":0.025},{"s":"Y1","k":79,"v":0.024},{"s":"Y1","k":80,"v":0.023},
{"s":"Y1","k":81,"v":0.022},{"s":"Y1","k":82,"v":0.021},{"s":"Y1","k":83,"v":0.02},{"s":"Y1","k":84,"v":0.02},{"s":"Y1","k":85,"v":0.019},{"s":"Y1","k":86,"v":0.018},{"s":"Y1","k":87,"v":0.017},{"s":"Y1","k":88,"v":0.017},{"s":"Y1","k":89,"v":0.016},{"s":"Y1","k":90,"v":0.015},
{"s":"Y1","k":91,"v":0.015},{"s":"Y1","k":92,"v":0.014},{"s":"Y1","k":93,"v":0.014},{"s":"Y1","k":94,"v":0.013},{"s":"Y1","k":95,"v":0.013},{"s":"Y1","k":96,"v":0.012},{"s":"Y1","k":97,"v":0.012},{"s":"Y1","k":98,"v":0.011},{"s":"Y1","k":99,"v":0.011},{"s":"Y1","k":100,"v":0.01},
{"s":"Y2","k":1,"v":-0.3},{"s":"Y2","k":2,"v":-0.33},{"s":"Y2","k":3,"v":-0.33},{"s":"Y2","k":4,"v":-0.2},{"s":"Y2","k":5,"v":-0.05},{"s":"Y2","k":6,"v":0.05},{"s":"Y2","k":7,"v":0.1},{"s":"Y2","k":8,"v":0.14},{"s":"Y2","k":9,"v":0.16},{"s":"Y2","k":10,"v":0.18},
{"s":"Y2","k":11,"v":0.19},{"s":"Y2","k":12,"v":0.19},{"s":"Y2","k":13,"v":0.19},{"s":"Y2","k":14,"v":0.18},{"s":"Y2","k":15,"v":0.18},{"s":"Y2","k":16,"v":0.17},{"s":"Y2","k":17,"v":0.17},{"s":"Y2","k":18,"v":0.16},{"s":"Y2","k":19,"v":0.16},{"s":"Y2","k":20,"v":0.15},
{"s":"Y2","k":21,"v":0.15},{"s":"Y2","k":22,"v":0.14},{"s":"Y2","k":23,"v":0.14},{"s":"Y2","k":24,"v":0.13},{"s":"Y2","k":25,"v":0.13},{"s":"Y2","k":26,"v":0.13},{"s":"Y2","k":27,"v":0.12},{"s":"Y2","k":28,"v":0.12},{"s":"Y2","k":29,"v":0.11},{"s":"Y2","k":30,"v":0.11},
{"s":"Y2","k":31,"v":0.11},{"s":"Y2","k":32,"v":0.1},{"s":"Y2","k":33,"v":0.1},{"s":"Y2","k":34,"v":0.09},{"s":"Y2","k":35,"v":0.09},{"s":"Y2","k":36,"v":0.09},{"s":"Y2","k":37,"v":0.08},{"s":"Y2","k":38,"v":0.08},{"s":"Y2","k":39,"v":0.08},{"s":"Y2","k":40,"v":0.08},
{"s":"Y2","k":41,"v":0.07},{"s":"Y2","k":42,"v":0.07},{"s":"Y2","k":43,"v":0.07},{"s":"Y2","k":44,"v":0.06},{"s":"Y2","k":45,"v":0.06},{"s":"Y2","k":46,"v":0.06},{"s":"Y2","k":47,"v":0.06},{"s":"Y2","k":48,"v":0.05},{"s":"Y2","k":49,"v":0.05},{"s":"Y2","k":50,"v":0.05},
{"s":"Y2","k":51,"v":0.05},{"s":"Y2","k":52,"v":0.04},{"s":"Y2","k":53,"v":0.04},{"s":"Y2","k":54,"v":0.04},{"s":"Y2","k":55,"v":0.04},{"s":"Y2","k":56,"v":0.04},{"s":"Y2","k":57,"v":0.04},{"s":"Y2","k":58,"v":0.03},{"s":"Y2","k":59,"v":0.03},{"s":"Y2","k":60,"v":0.03},
{"s":"Y2","k":61,"v":0.03},{"s":"Y2","k":62,"v":0.03},{"s":"Y2","k":63,"v":0.03},{"s":"Y2","k":64,"v":0.03},{"s":"Y2","k":65,"v":0.03},{"s":"Y2","k":66,"v":0.025},{"s":"Y2","k":67,"v":0.025},{"s":"Y2","k":68,"v":0.025},{"s":"Y2","k":69,"v":0.025},{"s":"Y2","k":70,"v":0.025},
{"s":"Y2","k":71,"v":0.02},{"s":"Y2","k":72,"v":0.02},{"s":"Y2","k":73,"v":0.02},{"s":"Y2","k":74,"v":0.02},{"s":"Y2","k":75,"v":0.02},{"s":"Y2","k":76,"v":0.02},{"s":"Y2","k":77,"v":0.02},{"s":"Y2","k":78,"v":0.02},{"s":"Y2","k":79,"v":0.02},{"s":"Y2","k":80,"v":0.02},
{"s":"Y2","k":81,"v":0.015},{"s":"Y2","k":82,"v":0.015},{"s":"Y2","k":83,"v":0.015},{"s":"Y2","k":84,"v":0.015},{"s":"Y2","k":85,"v":0.015},{"s":"Y2","k":86,"v":0.015},{"s":"Y2","k":87,"v":0.015},{"s":"Y2","k":88,"v":0.015},{"s":"Y2","k":89,"v":0.015},{"s":"Y2","k":90,"v":0.015},
{"s":"Y2","k":91,"v":0.01},{"s":"Y2","k":92,"v":0.01},{"s":"Y2","k":93,"v":0.01},{"s":"Y2","k":94,"v":0.01},{"s":"Y2","k":95,"v":0.01},{"s":"Y2","k":96,"v":0.01},{"s":"Y2","k":97,"v":0.01},{"s":"Y2","k":98,"v":0.01},{"s":"Y2","k":99,"v":0.01},{"s":"Y2","k":100,"v":0.01}
]},
"mark":{"type":"point","filled":true,"shape":"M-1,-0.6H1V0.6H-1Z","size":9,"opacity":0.95,"strokeWidth":0},
"encoding":{
"x":{"field":"k","type":"quantitative","scale":{"domain":[0,100],"nice":false},"axis":{"values":[0,20,40,60,80,100],"title":"k","titleFontSize":13,"titleFontWeight":"normal","titleColor":"black","titlePadding":0,"titleBaseline":"top","grid":false,"domainColor":"#8c8c8c","domainWidth":3,"tickColor":"#555","tickSize":-4,"labelPadding":4,"labelFontSize":11,"labelColor":"black","labelFont":"DejaVu Sans"}},
"y":{"field":"v","type":"quantitative","scale":{"domain":[-10,15],"nice":false},"axis":{"values":[-10,-5,0,5,10,15],"title":"vⱼ, j=1,...,6","titleFontSize":13,"titleFontWeight":"normal","titleColor":"black","titlePadding":22,"grid":false,"domainColor":"black","domainWidth":1.5,"tickColor":"#999","tickSize":-5,"tickWidth":1.5,"labelPadding":6,"labelFontSize":11,"labelColor":"black","labelFont":"DejaVu Sans"}},
"color":{"field":"s","type":"nominal","legend":null,"scale":{"domain":["B2","B1","G1","G2","P1","P2","R1","R2","C1","C2","Y1","Y2"],"range":["#2040f0","#2040f0","#20a020","#20a020","#a040f0","#a040f0","#f02828","#f02828","#50f0b0","#50f0b0","#c0d000","#c0d000"]}}
}}
